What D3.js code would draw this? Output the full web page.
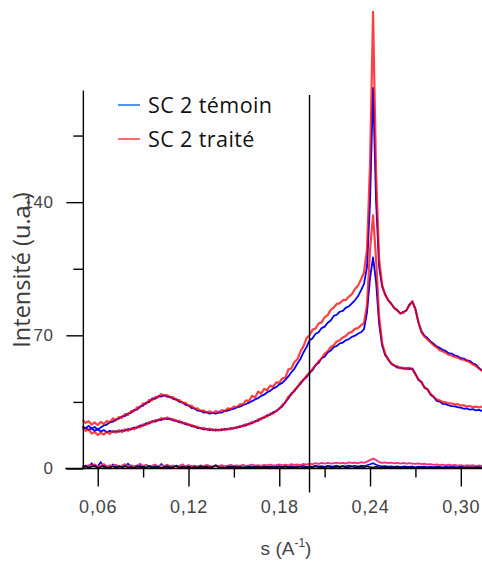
<!DOCTYPE html>
<html>
<head>
<meta charset="utf-8">
<script src="https://cdnjs.cloudflare.com/ajax/libs/d3/7.8.5/d3.min.js"></script>
<style>
  html, body { margin: 0; padding: 0; background: #fff; }
  svg { display: block; }
</style>
</head>
<body>
<script>
// s grid (A^-1)
var sValues = [
  0.050,0.052,0.054,0.056,0.058,0.060,0.062,0.064,0.066,0.068,
  0.070,0.072,0.074,0.076,0.078,0.080,0.082,0.084,0.086,0.088,
  0.090,0.092,0.094,0.096,0.098,0.100,0.102,0.104,0.106,0.108,
  0.110,0.112,0.114,0.116,0.118,0.120,0.122,0.124,0.126,0.128,
  0.130,0.132,0.134,0.136,0.138,0.140,0.142,0.144,0.146,0.148,
  0.150,0.152,0.154,0.156,0.158,0.160,0.162,0.164,0.166,0.168,
  0.170,0.172,0.174,0.176,0.178,0.180,0.182,0.184,0.186,0.188,
  0.190,0.192,0.194,0.196,0.198,0.200,0.202,0.204,0.206,0.208,
  0.210,0.212,0.214,0.216,0.218,0.220,0.222,0.224,0.226,0.228,
  0.230,0.232,0.234,0.236,0.238,0.240,0.242,0.244,0.246,0.248,
  0.250,0.252,0.254,0.256,0.258,0.260,0.262,0.264,0.266,0.268,
  0.270,0.272,0.274,0.276,0.278,0.280,0.282,0.284,0.286,0.288,
  0.290,0.292,0.294,0.296,0.298,0.300,0.302,0.304,0.306,0.308,
  0.310,0.312,0.314
];

// SC 2 temoin, upper curve
var temoinHaut = [
  22,21.2,22.4,21,21.8,20.4,21.6,22.6,23.1,24.3,
  24.6,25.8,26.2,27.4,27.6,28.9,29.3,30.8,31,32.7,
  33.1,34.6,34.9,36.8,36.6,38,37.8,38.6,37.6,37.8,
  36.5,36.4,35,34.9,33.5,33.2,31.8,31.6,30.4,30.3,
  29.4,29.6,28.8,29.2,28.8,29.5,29.4,30.2,30.4,31.1,
  31.4,32.1,32.5,33.3,33.9,34.6,35.4,36.3,37,38.1,
  38.8,40.1,40.8,42.1,42.8,44.2,45,46.6,48.4,50.6,
  52.4,55.2,57.6,61,63.8,67.4,68.4,70.8,71.6,73.8,
  74.6,76.6,77.8,80.2,80.8,82.4,82.9,84.6,85.2,86.8,
  88.4,90.5,93.6,97,106,140,200,140,106,95.6,
  91.6,88.4,86.8,84.2,83.4,81.4,82.4,83,86.2,87.6,
  84,76.6,72.2,69.8,68.6,66.8,65.6,64.2,63.4,62.4,
  61.8,60.6,60.4,59.4,59,58,57.8,56.8,56.6,55.2,
  54.6,52.8,51.6
];

// SC 2 traite, upper curve
var traiteHaut = [
  25.5,24,24.8,23,24.2,22.8,24.5,23.4,25,24.2,
  26.3,25.2,27.1,26.6,28.6,28.1,30.2,30,32.1,32,
  34.2,33.9,36.1,35.8,37.6,37.4,39.1,38.2,38.6,37.2,
  37.5,35.9,36,34.4,34.5,32.9,33.1,31.4,31.6,30.2,
  30.6,29.4,30.1,29.1,30.2,29.6,30.7,30.2,31.6,31.2,
  32.6,32.2,33.8,33.6,35.8,35.4,38.2,37.3,40.4,39.4,
  41.8,41.2,43.6,42.9,45.3,45.1,47.4,47.8,52,52.6,
  56,57.4,61.5,64.2,68.4,70,73,73.6,76.2,76.8,
  79.5,80.6,83.4,84.6,86.5,86.8,88.5,88.6,90.4,91.6,
  94.4,96,99.3,103,115,160,240,155,110,96.5,
  91.2,88.6,86.4,84.5,83,81.6,81.8,83.2,85.6,88,
  83.4,77,71.5,69.4,67.8,66.4,64.8,63.8,62.2,61.6,
  60.8,59.8,59.4,58.6,58.2,57.4,57.2,56.5,55.8,54.8,
  53.8,52.6,51.2
];

// SC 2 temoin, lower curve
var temoinBas = [
  20.6,21.4,20.2,21,19.8,20.6,19.4,20.2,19,19.8,
  19.2,19.6,19.3,20.1,19.8,20.7,20.5,21.5,21.4,22.6,
  22.5,23.8,23.6,24.9,24.6,25.7,25.5,26.4,25.9,26.2,
  25.2,25.3,24.2,24.3,23.2,23.3,22.2,22.3,21.2,21.4,
  20.5,20.8,20.1,20.6,19.9,20.5,20.1,20.8,20.5,21.2,
  21,21.8,21.7,22.7,22.6,23.7,23.7,25,25.1,26.5,
  26.6,28,28.2,29.6,30,31.6,32.6,35,36.8,39.4,
  40.6,43,44.4,46.8,48,50.4,51.6,54.4,55.4,58,
  58.8,61,62,63.8,64.4,65.8,66.2,67.4,68,69.2,
  69.8,70.8,71.6,73.2,82,100,111,98,76,64.6,
  59.6,57.6,55,54.2,53,53.2,52.4,52.8,52.2,52.6,
  49.8,46.4,45.6,42.4,41.8,38.8,37.6,35.6,35.2,34,
  33.8,33.2,32.8,32.6,32.2,32,31.4,31.6,30.9,31.2,
  30.6,30.8,30.2
];

// SC 2 traite, lower curve
var traiteBas = [
  22.2,19.8,20.6,18.4,19.2,17.6,18.8,17.8,19.4,18.2,
  19.8,18.8,20.2,19.1,20.6,19.8,21.1,20.6,22,21.6,
  23.2,22.9,24.4,24.2,25.4,25.1,26.5,25.8,26.9,25.7,
  26,24.8,25,23.7,24,22.8,23,21.8,22,20.9,
  21.4,20.4,21,20,20.6,19.9,20.8,20.2,21,20.6,
  21.5,21.2,22.4,22.1,23.4,23,24.5,24.3,25.9,25.8,
  27.3,27.2,28.9,28.8,30.4,31.2,33.4,34.6,37.8,38.9,
  41.3,42.6,45.3,46.4,48.8,50,52.4,54.1,56.4,57.8,
  60.4,61.6,63.9,64.8,66.8,67.4,68.9,69.6,71.3,71.8,
  73.4,73.8,75.2,76.4,86,115,133,110,80,66,
  60.4,57.2,55.4,54,53.8,52.6,53,52.2,53,52,
  49.4,47,45.2,42.8,41.4,39.2,37.8,36.4,35.8,35,
  34.8,34.2,34.2,33.6,33.8,33.1,33.3,32.6,32.9,32.2,
  32.5,32.1,32.6
];

// traces near zero
var fondNoir = [
  0.6,1.2,0.4,0.9,1.5,0.3,0.8,1.3,0.5,0.7,1.1,0.4,1.0,0.6,1.4,0.5,0.8,0.3,1.2,0.7,
  0.9,0.4,1.3,0.6,0.5,1.0,0.3,0.8,1.2,0.5,0.7,1.4,0.4,0.9,0.6,1.1,0.3,0.8,0.5,1.2,
  0.6,0.9,0.4,1.0,1.6,0.5,0.7,0.3,0.9,0.6,1.1,0.4,0.8,0.5,0.7,1.0,0.3,0.6,0.9,0.4,
  0.8,0.5,1.0,0.6,0.3,0.9,0.7,1.2,0.4,0.8,0.5,0.6,1.0,0.4,0.7,0.9,0.5,1.1,0.6,0.8,
  0.4,1.0,0.7,0.5,0.9,0.6,1.2,0.4,0.8,1.0,0.5,0.7,0.9,0.6,1.1,0.8,0.5,0.9,0.6,0.4,
  0.8,0.5,0.7,0.3,0.9,0.6,0.4,0.8,0.5,0.7,0.3,0.6,0.8,0.4,0.5,0.7,0.3,0.6,0.8,0.4,
  0.5,0.7,0.3,0.6,0.4,0.8,0.5,0.3,0.6,0.4,0.7,0.5,0.3
];
var fondRose = [
  1.4,0.9,1.8,1.2,2.2,1.0,1.6,2.4,1.1,1.7,1.3,2.0,0.9,1.5,2.3,1.2,1.8,1.0,1.6,2.5,
  1.3,1.9,1.1,1.5,2.1,1.0,1.7,1.3,2.0,1.2,1.6,0.9,1.4,2.2,1.1,1.8,1.3,1.5,1.0,1.7,
  1.2,1.9,1.4,1.0,1.6,1.3,1.8,1.1,1.5,1.9,1.2,1.7,1.4,1.9,1.3,1.6,2.0,1.5,1.8,1.4,
  1.9,1.6,2.1,1.5,1.8,2.2,1.7,2.0,1.6,2.3,1.9,2.1,1.8,2.4,2.0,2.6,2.3,2.8,2.4,2.9,
  2.5,3.0,2.6,2.8,3.1,2.7,3.0,2.6,3.2,2.9,3.1,2.7,3.3,3.0,3.6,4.4,5.2,4.5,3.4,3.0,
  3.2,2.8,3.1,2.7,3.0,2.6,2.9,2.5,2.8,2.6,2.4,2.7,2.3,2.5,2.1,2.3,1.9,2.2,1.8,2.0,
  1.7,2.0,1.6,1.9,1.5,1.8,1.4,1.7,1.5,1.8,1.3,1.6,1.4
];
var fondBleu = [
  0.8,1.6,0.5,2.8,0.9,1.2,3.4,0.7,1.1,0.4,2.2,0.8,1.5,0.6,1.0,2.6,0.5,1.2,0.8,1.4,
  0.6,1.9,0.9,0.5,1.3,0.7,2.4,1.0,0.6,1.2,0.8,1.6,0.5,1.1,0.9,0.6,1.4,0.8,1.0,0.5,
  1.3,0.7,1.0,0.6,1.8,0.9,0.5,1.2,0.7,1.0,0.6,1.5,0.8,0.5,1.1,0.7,0.9,1.3,0.6,1.0,
  0.8,1.2,0.6,1.0,0.9,1.4,0.7,1.1,0.8,1.3,0.9,1.2,1.0,1.5,0.8,1.2,1.0,1.4,1.1,1.3,
  0.9,1.4,1.1,1.2,1.5,1.0,1.3,1.1,1.6,1.2,1.4,1.0,1.5,1.3,1.7,2.2,2.8,2.0,1.4,1.2,
  1.3,1.0,1.2,0.9,1.1,0.8,1.2,1.0,0.9,1.1,0.7,1.0,0.8,1.1,0.6,0.9,0.7,1.0,0.8,0.6,
  0.9,0.7,1.0,0.6,0.8,1.2,0.7,0.9,0.5,0.8,0.6,1.0,0.7
];

var xTicks = [0.06, 0.12, 0.18, 0.24, 0.30];
var xTickLabels = ["0,06", "0,12", "0,18", "0,24", "0,30"];
var xMinorTicks = [0.09, 0.15, 0.21, 0.27];
var yTicks = [0, 70, 140];
var yTickLabels = ["0", "70", "140"];
var yMinorTicks = [35, 105, 175];
var markerS = 0.20;
var legendNames = ["SC 2 témoin", "SC 2 traité"];

var width = 482, height = 561;

var x = d3.scaleLinear().domain([0.05, 0.315]).range([82.6, 483.5]);
var y = d3.scaleLinear().domain([0, 200]).range([468.5, 88]);
var axisX = x(0.0505);

var svg = d3.select("body").append("svg")
    .attr("width", width)
    .attr("height", height);

//curves
var line = d3.line()
    .x(function (d, i) { return x(sValues[i]); })
    .y(function (d) { return y(d); });

function drawCurve(values, color, w, op) {
    svg.append("path")
        .datum(values)
        .attr("fill", "none")
        .attr("stroke", color)
        .attr("stroke-width", w)
        .attr("stroke-opacity", op)
        .attr("stroke-linejoin", "round")
        .attr("d", line);
}
drawCurve(fondBleu, "#0000ff", 1.6, 1);
drawCurve(fondRose, "#ff2a7f", 1.8, 1);
drawCurve(fondNoir, "#000000", 1.5, 1);
drawCurve(temoinHaut, "#0000ff", 1.8, 1);
drawCurve(temoinBas, "#0000ff", 1.8, 1);
drawCurve(traiteHaut, "#ff0000", 2.2, 0.75);
drawCurve(traiteBas, "#ff0000", 2.2, 0.75);

//y axis
var yAxis = svg.append("g")
    .attr("transform", "translate(" + axisX + ",0)")
    .call(d3.axisLeft(y).tickValues(yTicks).tickSize(17).tickSizeOuter(0).tickPadding(13)
        .tickFormat(function (d, i) { return yTickLabels[i]; }));
yAxis.select(".domain").attr("d", "M0," + y(0) + "V" + y(198.7));
svg.append("g")
    .attr("transform", "translate(" + axisX + ",0)")
    .call(d3.axisLeft(y).tickValues(yMinorTicks).tickSize(10).tickFormat(""))
    .select(".domain").remove();

//x axis
var xAxis = svg.append("g")
    .attr("transform", "translate(0," + y(0) + ")")
    .call(d3.axisBottom(x).tickValues(xTicks).tickSize(18).tickSizeOuter(0).tickPadding(14)
        .tickFormat(function (d, i) { return xTickLabels[i]; }));
xAxis.select(".domain").attr("d", "M" + (axisX - 18) + ",0H" + width);
svg.append("g")
    .attr("transform", "translate(0," + y(0) + ")")
    .call(d3.axisBottom(x).tickValues(xMinorTicks).tickSize(9).tickFormat(""))
    .select(".domain").remove();

svg.selectAll(".tick line, .domain")
    .attr("stroke", "#000")
    .attr("stroke-width", 1.4);
svg.selectAll(".tick text")
    .attr("fill", "#444")
    .style("font-family", "'Liberation Sans', Arial, sans-serif")
    .style("font-size", "17px")
    .style("letter-spacing", "0.5px");
xAxis.selectAll(".tick text")
    .style("font-size", "18px")
    .style("letter-spacing", "0.8px");

//vertical marker at s = 0.20
svg.append("line")
    .attr("x1", x(markerS)).attr("x2", x(markerS))
    .attr("y1", 95).attr("y2", y(0) + 24)
    .attr("stroke", "#000")
    .attr("stroke-width", 1.4);

//axis titles
svg.append("text")
    .attr("transform", "translate(30,270) rotate(-90)")
    .attr("text-anchor", "middle")
    .attr("fill", "#3a3a3a")
    .style("font-family", "'Open Sans', sans-serif")
    .style("font-size", "23.5px")
    .text("Intensité (u.a.)");

var xTitle = svg.append("text")
    .attr("x", 286).attr("y", 555)
    .attr("text-anchor", "middle")
    .attr("fill", "#444")
    .style("font-family", "'Liberation Sans', Arial, sans-serif")
    .style("font-size", "19px");
xTitle.append("tspan").text("s (A");
xTitle.append("tspan").attr("dy", -8).style("font-size", "12px").text("-1");
xTitle.append("tspan").attr("dy", 8).text(")");

//legend
var legendColors = ["#1a73d9", "#ff3b3b"];
var legend = svg.append("g").attr("transform", "translate(118,105)");
legendNames.forEach(function (name, i) {
    var g = legend.append("g").attr("transform", "translate(0," + (i * 34) + ")");
    g.append("line")
        .attr("x1", 0).attr("x2", 22)
        .attr("stroke", legendColors[i])
        .attr("stroke-width", 1.5);
    g.append("text")
        .attr("x", 30).attr("y", 8)
        .attr("fill", "#111")
        .style("font-family", "'Open Sans', sans-serif")
        .style("font-size", "21.5px")
        .style("letter-spacing", "0.4px")
        .text(name);
});
</script>
</body>
</html>
